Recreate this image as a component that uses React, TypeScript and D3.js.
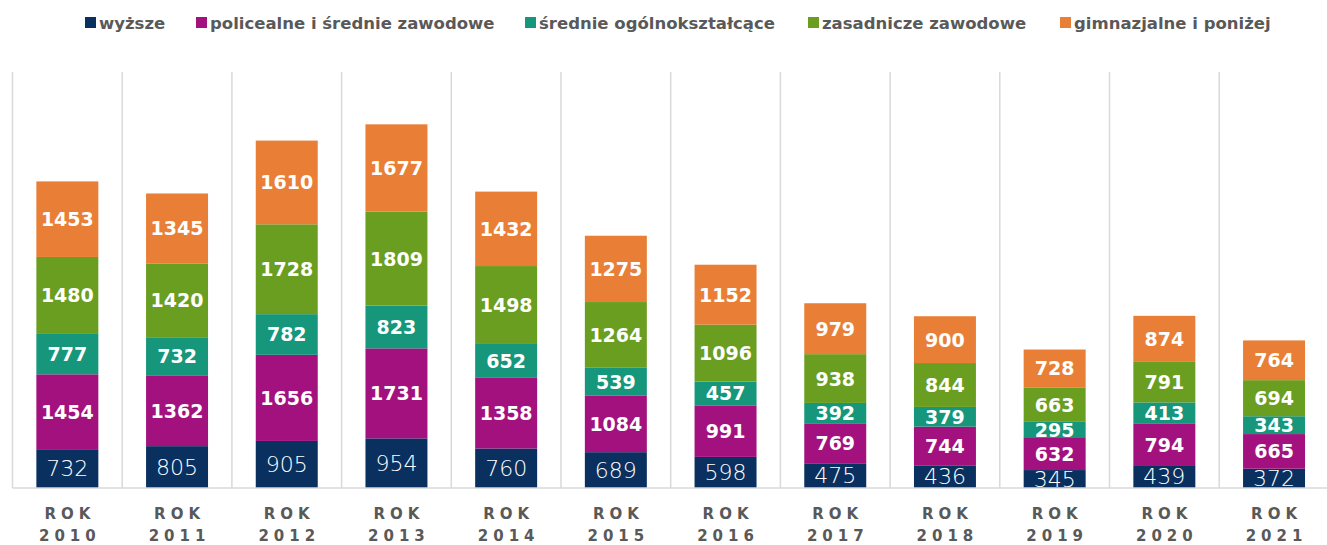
import React from "react";
import * as d3 from "d3";

const years = ["2010","2011","2012","2013","2014","2015","2016","2017","2018","2019","2020","2021"];
const seriesNames = ["wyższe","policealne i średnie zawodowe","średnie ogólnokształcące","zasadnicze zawodowe","gimnazjalne i poniżej"];
const wyzsze = [732,805,905,954,760,689,598,475,436,345,439,372];
const policealne = [1454,1362,1656,1731,1358,1084,991,769,744,632,794,665];
const srednie = [777,732,782,823,652,539,457,392,379,295,413,343];
const zasadnicze = [1480,1420,1728,1809,1498,1264,1096,938,844,663,791,694];
const gimnazjalne = [1453,1345,1610,1677,1432,1275,1152,979,900,728,874,764];
const colors = ["#0a3060","#a3117f","#16967a","#6a9e20","#e97f37"];
const legendX = [85, 196, 525, 808, 1060];

export default function App() {
  const W = 1327, H = 545;
  const x0 = 12.5, bw = 109.7;
  const x = d3.scaleBand<string>().domain(years).range([x0, x0 + bw * years.length]).paddingInner(0.435).paddingOuter(0.2175);
  const y = d3.scaleLinear().domain([0, 8000]).range([488, 72]);
  const all = [wyzsze, policealne, srednie, zasadnicze, gimnazjalne];
  const rows = years.map((yr, i) => {
    const o: any = { year: yr };
    seriesNames.forEach((s, j) => (o[s] = all[j][i]));
    return o;
  });
  const stack = d3.stack<any>().keys(seriesNames)(rows);
  const font = "'DejaVu Sans', sans-serif";
  return (
    <svg width={W} height={H} style={{ position: "absolute", left: 0, top: 0 }}>
      <defs>
        <clipPath id="plot"><rect x={0} y={60} width={W} height={488 - 60} /></clipPath>
      </defs>
      {years.map((yr, i) => (
        <line key={yr} x1={x0 + i * bw} x2={x0 + i * bw} y1={72} y2={488} stroke="#d9d9d9" strokeWidth={1.5} />
      ))}
      <g clipPath="url(#plot)">
        {stack.map((layer, j) => (
          <g key={j}>
            {layer.map((d, i) => (
              <rect key={i} x={x(years[i])} width={x.bandwidth()} y={y(d[1])} height={y(d[0]) - y(d[1])} fill={colors[j]} />
            ))}
          </g>
        ))}
        {stack.map((layer, j) => (
          <g key={"t" + j}>
            {layer.map((d, i) => (
              <text key={i} x={(x(years[i]) as number) + x.bandwidth() / 2} y={(y(d[0]) + y(d[1])) / 2}
                textAnchor="middle" dominantBaseline="central" fill="#fff"
                fontFamily={font} fontWeight={j === 0 ? 300 : 700} fontSize={j === 0 ? 22 : 19}>
                {all[j][i]}
              </text>
            ))}
          </g>
        ))}
      </g>
      <line x1={x0} x2={W} y1={488} y2={488} stroke="#d9d9d9" strokeWidth={1.5} />
      {years.map((yr) => (
        <g key={"l" + yr} fontFamily={font} fontWeight={700} fontSize={15} fill="#595959" textAnchor="middle" letterSpacing={5}>
          <text x={(x(yr) as number) + x.bandwidth() / 2 + 2.5} y={519}>ROK</text>
          <text x={(x(yr) as number) + x.bandwidth() / 2 + 2.5} y={541}>{yr}</text>
        </g>
      ))}
      {seriesNames.map((s, j) => (
        <g key={"lg" + j}>
          <rect x={legendX[j]} y={17} width={11} height={11} fill={colors[j]} />
          <text x={legendX[j] + 14} y={23} dominantBaseline="central" fontFamily={font} fontWeight={700} fontSize={16.5} fill="#595959">{s}</text>
        </g>
      ))}
    </svg>
  );
}
